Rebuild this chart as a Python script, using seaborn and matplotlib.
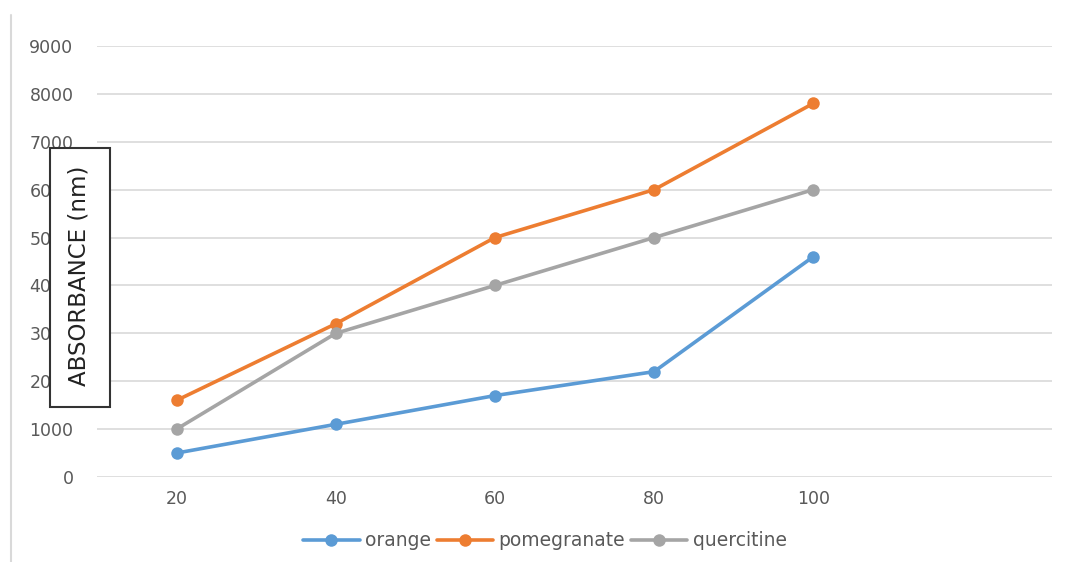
import matplotlib
matplotlib.use("Agg")
import matplotlib.pyplot as plt
from matplotlib.lines import Line2D
from matplotlib.patches import Rectangle
import seaborn as sns
import pandas as pd

# Concentrations (x categories) and absorbance per extract
concentrations = ["20", "40", "60", "80", "100"]
orange = [500, 1100, 1700, 2200, 4600]
pomegranate = [1600, 3200, 5000, 6000, 7800]
quercitine = [1000, 3000, 4000, 5000, 6000]
series_names = ["orange", "pomegranate", "quercitine"]
y_ticks = [0, 1000, 2000, 3000, 4000, 5000, 6000, 7000, 8000, 9000]

palette = {"orange": "#5B9BD5", "pomegranate": "#ED7D31", "quercitine": "#A5A5A5"}

rows = []
for name, vals in zip(series_names, [orange, pomegranate, quercitine]):
    for i, (c, v) in enumerate(zip(concentrations, vals)):
        rows.append({"pos": i, "conc": c, "value": v, "series": name})
df = pd.DataFrame(rows)

sns.set_theme(style="white")
plt.rcParams["font.family"] = ["DejaVu Sans"]

fig = plt.figure(figsize=(10.67, 5.62), dpi=100)
ax = fig.add_axes([97 / 1067, 1 - 477 / 562, (1052 - 97) / 1067, (477 - 46) / 562])

sns.lineplot(data=df, x="pos", y="value", hue="series", palette=palette,
             hue_order=series_names, marker="o", markersize=9, linewidth=2.6,
             markeredgewidth=0, ax=ax, legend=False, zorder=3)

ax.set_xlim(-0.5, 5.5)
ax.set_ylim(0, 9000)
ax.set_xticks(range(len(concentrations)))
ax.set_xticklabels(concentrations)
ax.set_yticks(y_ticks)
ax.set_yticklabels([str(t) for t in y_ticks])
ax.yaxis.grid(True, color="#D9D9D9", linewidth=1.2)
ax.xaxis.grid(False)
for s in ax.spines.values():
    s.set_visible(False)
ax.tick_params(axis="both", length=0, labelsize=12.5, labelcolor="#595959")
ax.tick_params(axis="y", pad=17)
ax.tick_params(axis="x", pad=9)
ax.set_xlabel("")
ax.set_ylabel("")

# Legend below the plot
handles = [Line2D([0], [0], color=palette[n], linewidth=2.6, marker="o",
                  markersize=9, markeredgewidth=0) for n in series_names]
fig.legend(handles, series_names, loc="center", bbox_to_anchor=(545 / 1067, 1 - 541 / 562),
           ncol=3, frameon=False, fontsize=13.5, handlelength=3.0, columnspacing=0.3,
           handletextpad=0.3, labelcolor="#595959")

# Left frame edge of the chart area
fig.add_artist(Line2D([11 / 1067, 11 / 1067], [0, 1 - 15 / 562], color="#D9D9D9", linewidth=1.5))

# Boxed axis title overlaid on the tick labels
box = Rectangle((50 / 1067, 1 - 407 / 562), 60 / 1067, 259 / 562, transform=fig.transFigure,
                facecolor="white", edgecolor="#333333", linewidth=1.5, zorder=10)
fig.add_artist(box)
fig.text(79 / 1067, 1 - 276 / 562, "ABSORBANCE (nm)", rotation=90, ha="center", va="center",
         fontsize=16.5, color="#222222", zorder=11)

fig.savefig("out.png", dpi=100)
